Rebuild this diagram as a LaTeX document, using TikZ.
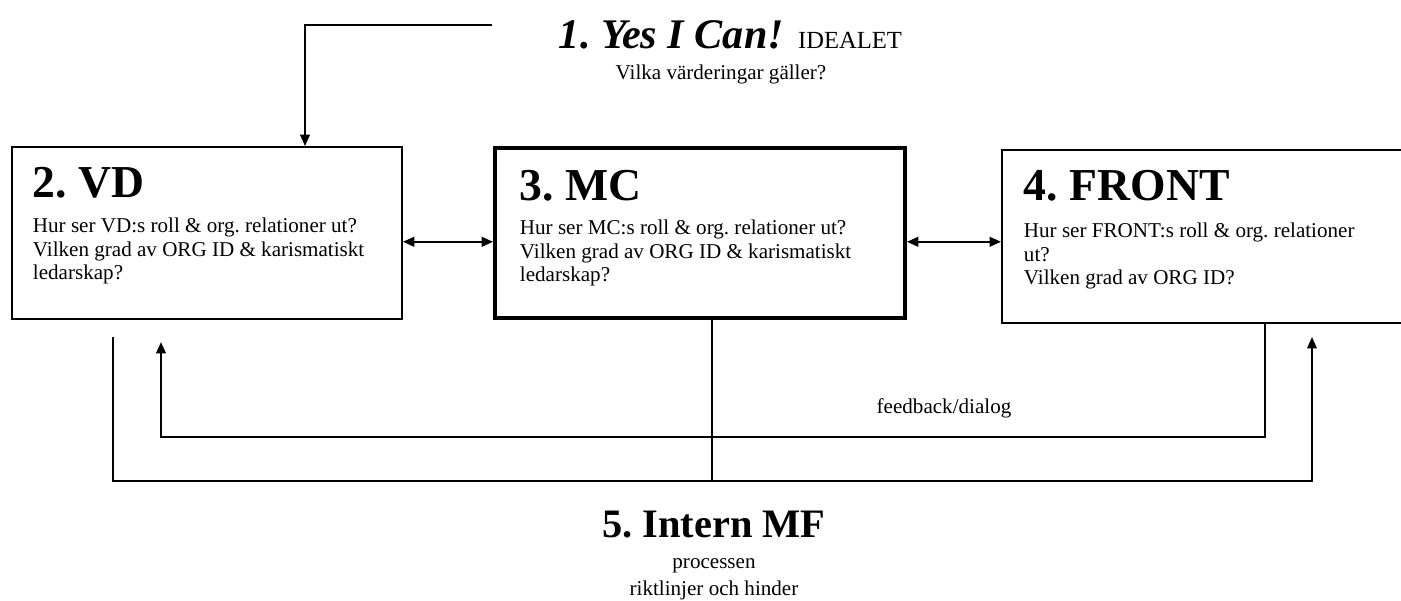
\documentclass[tikz,border=0pt]{standalone}
\usepackage{fontspec}
\setmainfont{Liberation Serif}
\usetikzlibrary{arrows.meta}
\frenchspacing

\begin{document}
\begin{tikzpicture}[x=0.02cm, y=-0.02cm, line width=1.1pt,
    every node/.style={inner sep=0pt},
    box/.style={draw, line width=1.1pt},
    mainbox/.style={draw, line width=2.2pt},
    boxtitle/.style={anchor=base west, font=\fontsize{26}{30}\selectfont\bfseries},
    boxtext/.style={anchor=north west, align=left, font=\fontsize{12}{13.6}\selectfont},
    smalltext/.style={anchor=base, font=\fontsize{12}{13.6}\selectfont},
    arr/.style={-{Triangle[length=6.5pt,width=5.5pt]}},
    arrs/.style={{Triangle[length=6.5pt,width=5.5pt]}-{Triangle[length=6.5pt,width=5.5pt]}}]
          \useasboundingbox (0,0) rectangle (1401,600);

          \node[box, minimum width=7.8cm, minimum height=3.44cm] (vd) at (207,233) {};
          \node[mainbox, minimum width=8.2cm, minimum height=3.4cm] (mc) at (700,233) {};
          \node[box, minimum width=8.36cm, minimum height=3.46cm] (front) at (1211,236.5) {};

          \node[boxtitle] (vdt) at (32,197) {2. VD};
          \node[boxtext] (vdb) at (32,216.5) {Hur ser VD:s roll \& org. relationer ut?\\
            Vilken grad av ORG ID \& karismatiskt\\ ledarskap?};
          \node[boxtitle] (mct) at (519,200) {3. MC};
          \node[boxtext] (mcb) at (519,218.5) {Hur ser MC:s roll \& org. relationer ut?\\
            Vilken grad av ORG ID \& karismatiskt\\ ledarskap?};
          \node[boxtitle] (frontt) at (1023,200) {4. FRONT};
          \node[boxtext] (frontb) at (1023,221.5) {Hur ser FRONT:s roll \& org. relationer\\
            ut?\\ Vilken grad av ORG ID?};

          \node[anchor=base west, font=\fontsize{24}{28}\selectfont\bfseries\itshape] (yes) at (558,48) {1. Yes I Can!};
          \node[anchor=base west, font=\fontsize{14}{16}\selectfont] (ideal) at ([xshift=7pt]yes.base east) {IDEALET};
          \node[smalltext] (values) at (721,79) {Vilka värderingar gäller?};

          \node[anchor=base, font=\fontsize{23}{27}\selectfont\bfseries] (mf) at (714,537) {5. Intern MF};
          \node[smalltext] (mfp) at (714,568) {processen};
          \node[smalltext] (mfr) at (714,595) {riktlinjer och hinder};
          \node[smalltext] (fb) at (944,413) {feedback/dialog};

          \coordinate (ytop) at (492,25);
          \coordinate (kink) at (305,25);
          \draw[arr] (ytop) -- (kink) -- (kink |- vd.north);

          \draw[arrs] ([yshift=-5pt]vd.east) -- ([yshift=-5pt]vd.east -| mc.west);
          \draw[arrs] ([yshift=-5pt]mc.east) -- ([yshift=-5pt]mc.east -| front.west);

          \coordinate (fbr) at (1265,437);
          \coordinate (fbl) at (161,437);
          \coordinate (fbtip) at (161,342);
          \draw[arr] (fbr |- front.south) -- (fbr) -- (fbl) -- (fbtip);

          \coordinate (olt) at (113,337);
          \coordinate (olb) at (113,481);
          \coordinate (orb) at (1312,481);
          \coordinate (ortip) at (1312,337);
          \draw[arr] (olt) -- (olb) -- (orb) -- (ortip);

          \coordinate (mid) at (712,481);
          \draw[line width=0.9pt] (mid |- mc.south) -- (mid);

          \end{tikzpicture}
\end{document}
